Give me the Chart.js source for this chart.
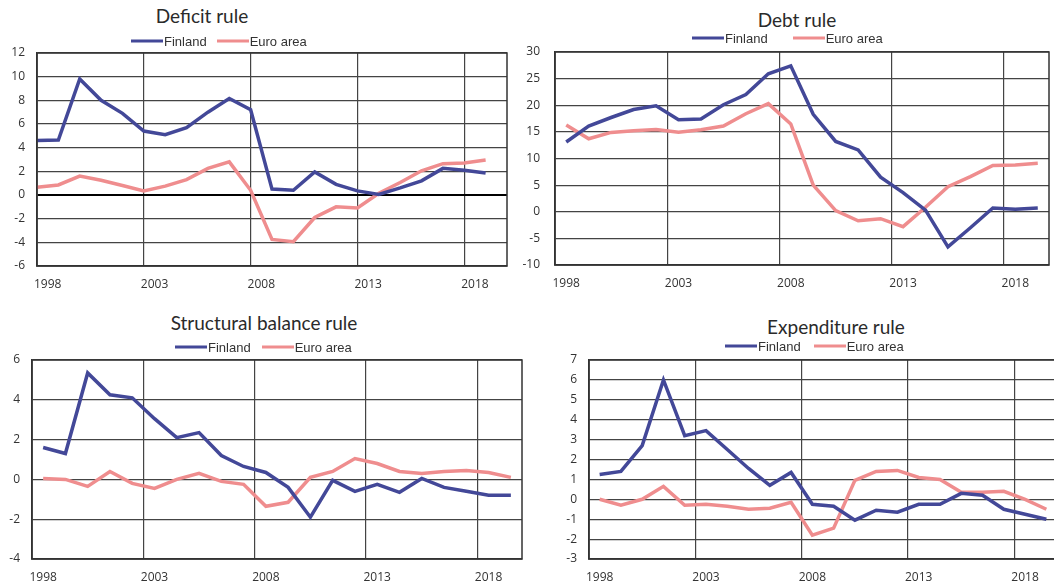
<!DOCTYPE html>
<html>
<head>
<meta charset="utf-8">
<script src="https://cdn.jsdelivr.net/npm/chart.js@4/dist/chart.umd.min.js"></script>
<style>
  html, body { margin: 0; padding: 0; background: #fff; overflow: hidden; }
  body { width: 1054px; height: 586px; position: relative; }
  .box { position: absolute; }
  .title { position: absolute; font-family: Lato, 'Open Sans', sans-serif; font-size: 19px; color: #2a2a2a; white-space: nowrap; transform: translate(-50%, -50%); }
  .legend { position: absolute; display: flex; align-items: center; font-family: 'Liberation Sans', Arial, sans-serif; font-size: 13px; color: #333; white-space: nowrap; transform: translateY(-50%); }
  .sw { display: inline-block; width: 32px; height: 0; border-top: 3.5px solid; margin-right: 1px; }
</style>
</head>
<body>
<div class="box" style="left:0;top:43px;width:520px;height:257px"><canvas id="c1"></canvas></div>
<div class="box" style="left:520px;top:42px;width:534px;height:258px"><canvas id="c2"></canvas></div>
<div class="box" style="left:0;top:350px;width:530px;height:236px"><canvas id="c3"></canvas></div>
<div class="box" style="left:540px;top:350px;width:520px;height:236px"><canvas id="c4"></canvas></div>

<script>
const years = [1998, 1999, 2000, 2001, 2002, 2003, 2004, 2005, 2006, 2007, 2008,
               2009, 2010, 2011, 2012, 2013, 2014, 2015, 2016, 2017, 2018, 2019];
const yearsEdge = [...years, 2020];

// Deficit rule
const deficitFinland = [4.6, 4.65, 9.8, 8.0, 6.9, 5.4, 5.1, 5.7, 7.0, 8.15, 7.2,
                        0.5, 0.4, 1.95, 0.9, 0.35, 0.05, 0.6, 1.2, 2.25, 2.1, 1.85];
const deficitEuro = [0.65, 0.85, 1.6, 1.25, 0.8, 0.35, 0.75, 1.3, 2.25, 2.8, 0.4,
                     -3.75, -3.95, -1.9, -1.0, -1.1, 0.15, 1.05, 2.05, 2.65, 2.7, 2.95];

// Debt rule
const debtFinland = [13.1, 16.1, 17.7, 19.2, 19.9, 17.3, 17.4, 20.1, 22.0, 25.9, 27.4,
                     18.3, 13.2, 11.6, 6.5, 3.6, 0.3, -6.6, -3.0, 0.7, 0.45, 0.7];
const debtEuro = [16.3, 13.7, 14.9, 15.2, 15.45, 14.95, 15.4, 16.1, 18.4, 20.3, 16.5,
                  5.0, 0.2, -1.7, -1.3, -2.8, 0.85, 4.7, 6.6, 8.7, 8.8, 9.1];

// Structural balance rule
const structFinland = [1.6, 1.3, 5.35, 4.25, 4.1, 3.05, 2.1, 2.35, 1.2, 0.65, 0.35,
                       -0.4, -1.9, -0.05, -0.6, -0.25, -0.65, 0.05, -0.4, -0.6, -0.8, -0.8];
const structEuro = [0.05, 0.0, -0.35, 0.4, -0.2, -0.45, 0.0, 0.3, -0.1, -0.25, -1.35,
                    -1.15, 0.1, 0.4, 1.05, 0.8, 0.4, 0.3, 0.4, 0.45, 0.35, 0.1];

// Expenditure rule
const expFinland = [1.25, 1.4, 2.7, 6.0, 3.2, 3.45, 2.5, 1.55, 0.7, 1.35, -0.25,
                    -0.35, -1.05, -0.55, -0.65, -0.25, -0.25, 0.3, 0.2, -0.5, -0.75, -1.0];
const expEuro = [0.0, -0.3, 0.0, 0.65, -0.3, -0.25, -0.35, -0.5, -0.45, -0.15, -1.8,
                 -1.45, 0.95, 1.4, 1.45, 1.1, 1.0, 0.35, 0.35, 0.4, 0.0, -0.5];

const seriesNames = ['Finland', 'Euro area'];
const colors = ['#434898', '#ef8d8e'];
const gridColor = '#444';
const tickFont = { family: "'Open Sans', sans-serif", size: 12 };

const plotFrame = {
    id: 'plotFrame',
    afterDraw(chart) {
        const a = chart.chartArea;
        const ctx = chart.ctx;
        ctx.save();
        ctx.strokeStyle = '#333';
        ctx.lineWidth = 1.5;
        ctx.strokeRect(a.left, a.top, a.right - a.left, a.bottom - a.top);
        ctx.restore();
    }
};

function noPad(s) {
    s.paddingTop = 0;
    s.paddingBottom = 0;
    s.paddingLeft = 0;
    s.paddingRight = 0;
}

function makeChart(id, cfg) {
    const onEdge = cfg.onEdge; // data on gridlines instead of between them
    new Chart(document.getElementById(id), {
        type: 'line',
        data: {
            labels: onEdge ? yearsEdge : years,
            datasets: [
                { label: seriesNames[0], data: cfg.fin, borderColor: colors[0], borderWidth: 3.5, pointRadius: 0, tension: 0 },
                { label: seriesNames[1], data: cfg.euro, borderColor: colors[1], borderWidth: 3.5, pointRadius: 0, tension: 0 }
            ]
        },
        options: {
            responsive: true,
            maintainAspectRatio: false,
            animation: false,
            layout: { padding: cfg.pad },
            plugins: { legend: { display: false }, title: { display: false }, tooltip: { enabled: false } },
            scales: {
                x: {
                    offset: !onEdge,
                    grid: {
                        offset: !onEdge,
                        drawTicks: false,
                        color: ctx => (ctx.index % 5 === 0 ? gridColor : 'rgba(0,0,0,0)'),
                        lineWidth: 1.2
                    },
                    border: { display: true, color: '#333', width: 1.5 },
                    ticks: {
                        autoSkip: false,
                        maxRotation: 0,
                        padding: 11,
                        labelOffset: onEdge ? 10.7 : 0,
                        color: '#333',
                        font: tickFont,
                        callback: function(value) {
                            const lab = this.getLabelForValue(value);
                            return (lab - 1998) % 5 === 0 && lab < 2020 ? String(lab) : '';
                        }
                    },
                    afterFit: s => { s.height = cfg.xh; noPad(s); }
                },
                y: {
                    min: cfg.min,
                    max: cfg.max,
                    grid: {
                        drawTicks: false,
                        color: ctx => (cfg.zeroBold && ctx.tick && ctx.tick.value === 0 ? '#000' : gridColor),
                        lineWidth: ctx => (cfg.zeroBold && ctx.tick && ctx.tick.value === 0 ? 2 : 1.2)
                    },
                    border: { display: true, color: '#333', width: 1.5 },
                    ticks: { stepSize: cfg.step, padding: cfg.ypad, color: '#333', font: tickFont },
                    afterFit: s => { s.width = cfg.yw; noPad(s); }
                }
            }
        },
        plugins: [plotFrame]
    });
}

makeChart('c1', { fin: deficitFinland, euro: deficitEuro, min: -6, max: 12, step: 2, onEdge: true, zeroBold: true,
    yw: 37, xh: 30, ypad: 12, pad: { top: 10, right: 13, bottom: 4, left: 0 } });
makeChart('c2', { fin: debtFinland, euro: debtEuro, min: -10, max: 30, step: 5,
    yw: 35, xh: 30, ypad: 15, pad: { top: 10, right: 5, bottom: 5, left: 0 } });
makeChart('c3', { fin: structFinland, euro: structEuro, min: -4, max: 6, step: 2,
    yw: 32, xh: 27, ypad: 12, pad: { top: 10, right: 8, bottom: 0, left: 0 } });
makeChart('c4', { fin: expFinland, euro: expEuro, min: -3, max: 7, step: 1,
    yw: 49, xh: 27, ypad: 12, pad: { top: 10, right: 3, bottom: 0, left: 0 } });

// Titles and legends
const panels = [
    { title: 'Deficit rule', tx: 202, ty: 15, lx: 131, ly: 41, gap: 10 },
    { title: 'Debt rule', tx: 797, ty: 19, lx: 692, ly: 38, gap: 25 },
    { title: 'Structural balance rule', tx: 264, ty: 322, lx: 175, ly: 347, gap: 11 },
    { title: 'Expenditure rule', tx: 836, ty: 326, lx: 725, ly: 346, gap: 13 }
];
panels.forEach(p => {
    const t = document.createElement('div');
    t.className = 'title';
    t.style.left = p.tx + 'px';
    t.style.top = p.ty + 'px';
    t.textContent = p.title;
    document.body.appendChild(t);

    const lg = document.createElement('div');
    lg.className = 'legend';
    lg.style.left = p.lx + 'px';
    lg.style.top = p.ly + 'px';
    seriesNames.forEach((name, i) => {
        const sw = document.createElement('span');
        sw.className = 'sw';
        sw.style.borderColor = colors[i];
        if (i > 0) sw.style.marginLeft = p.gap + 'px';
        const tx = document.createElement('span');
        tx.textContent = name;
        lg.appendChild(sw);
        lg.appendChild(tx);
    });
    document.body.appendChild(lg);
});
</script>
</body>
</html>
